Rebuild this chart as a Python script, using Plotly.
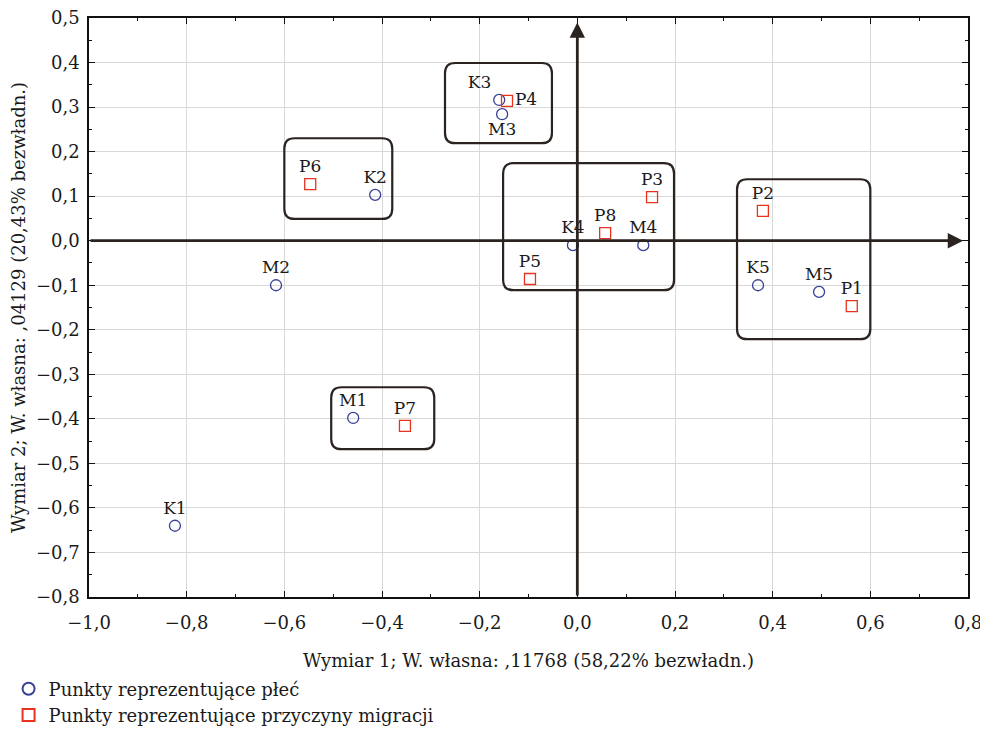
import plotly.graph_objects as go

# Points representing gender (circles)
k_labels = ["K1", "M2", "M1", "K2", "K3", "M3", "K4", "M4", "K5", "M5"]
k_x = [-0.824, -0.617, -0.459, -0.414, -0.160, -0.154, -0.009, 0.135, 0.370, 0.495]
k_y = [-0.640, -0.100, -0.398, 0.103, 0.316, 0.284, -0.010, -0.010, -0.100, -0.115]
k_pos = ["top center", "top center", "top center", "top center", "top left",
         "bottom center", "top center", "top center", "top center", "top center"]

# Points representing migration reasons (squares)
p_labels = ["P7", "P6", "P4", "P5", "P8", "P3", "P2", "P1"]
p_x = [-0.353, -0.547, -0.144, -0.097, 0.057, 0.153, 0.380, 0.562]
p_y = [-0.416, 0.127, 0.314, -0.086, 0.017, 0.098, 0.067, -0.147]
p_pos = ["top center", "top center", "middle right", "top center", "top center",
         "top center", "top center", "top center"]

# Group boxes (x0, x1, y0, y1) in data units
boxes = [
    (-0.271, -0.052, 0.219, 0.399),
    (-0.600, -0.379, 0.049, 0.230),
    (-0.152, 0.198, -0.111, 0.174),
    (0.327, 0.600, -0.221, 0.138),
    (-0.504, -0.293, -0.468, -0.329),
]

x_ticks = [-1.0, -0.8, -0.6, -0.4, -0.2, 0.0, 0.2, 0.4, 0.6, 0.8]
x_ticktext = ["−1,0", "−0,8", "−0,6", "−0,4", "−0,2", "0,0", "0,2", "0,4", "0,6", "0,8"]
y_ticks = [0.5, 0.4, 0.3, 0.2, 0.1, 0.0, -0.1, -0.2, -0.3, -0.4, -0.5, -0.6, -0.7, -0.8]
y_ticktext = ["0,5", "0,4", "0,3", "0,2", "0,1", "0,0", "−0,1", "−0,2", "−0,3",
              "−0,4", "−0,5", "−0,6", "−0,7", "−0,8"]

FONT = "DejaVu Serif, Liberation Serif, serif"
DARK = "#2a2320"
TXT = "#1a1a1a"

fig = go.Figure()

fig.add_trace(go.Scatter(
    x=k_x, y=k_y, mode="markers+text", text=k_labels, textposition=k_pos,
    textfont=dict(family=FONT, size=17, color=TXT),
    marker=dict(symbol="circle-open", size=11, color="#3a3f96", line=dict(width=1.3)),
    name="Punkty reprezentujące płeć", cliponaxis=False,
))
fig.add_trace(go.Scatter(
    x=p_x, y=p_y, mode="markers+text", text=p_labels, textposition=p_pos,
    textfont=dict(family=FONT, size=17, color=TXT),
    marker=dict(symbol="square-open", size=11, color="#e8321e", line=dict(width=1.3)),
    name="Punkty reprezentujące przyczyny migracji", cliponaxis=False,
))

rx, ry = 0.021, 0.023
for (x0, x1, y0, y1) in boxes:
    path = (f"M {x0+rx},{y0} L {x1-rx},{y0} Q {x1},{y0} {x1},{y0+ry} "
            f"L {x1},{y1-ry} Q {x1},{y1} {x1-rx},{y1} "
            f"L {x0+rx},{y1} Q {x0},{y1} {x0},{y1-ry} "
            f"L {x0},{y0+ry} Q {x0},{y0} {x0+rx},{y0} Z")
    fig.add_shape(type="path", path=path, xref="x", yref="y",
                  line=dict(color=DARK, width=2.2), layer="above")

# Axis arrows through the origin
fig.add_annotation(x=0, y=0.49, ax=0, ay=-0.8, xref="x", yref="y", axref="x", ayref="y",
                   showarrow=True, arrowhead=2, arrowsize=1.1, arrowwidth=2.8,
                   arrowcolor=DARK, text="")
fig.add_annotation(x=0.79, y=0, ax=-1.0, ay=0, xref="x", yref="y", axref="x", ayref="y",
                   showarrow=True, arrowhead=2, arrowsize=1.1, arrowwidth=2.8,
                   arrowcolor=DARK, text="")

fig.update_xaxes(
    range=[-1.0, 0.8], tickvals=x_ticks, ticktext=x_ticktext, automargin=False,
    showgrid=True, gridcolor="#d8d8d8", gridwidth=1, zeroline=False,
    showline=True, linecolor="#111", linewidth=1.5, mirror="allticks",
    ticks="inside", ticklen=6, tickcolor="#111", ticklabelstandoff=9,
    ticklabeloverflow="allow",
    minor=dict(dtick=0.1, ticks="inside", ticklen=3, tickcolor="#111", showgrid=False),
    tickfont=dict(family=FONT, size=18, color=TXT),
    title=dict(text="Wymiar 1; W. własna: ,11768 (58,22% bezwładn.)",
               font=dict(family=FONT, size=18, color=TXT), standoff=22),
)
fig.update_yaxes(
    range=[-0.8, 0.5], tickvals=y_ticks, ticktext=y_ticktext, automargin=False,
    domain=[0.0, 0.983],
    showgrid=True, gridcolor="#d8d8d8", gridwidth=1, zeroline=False,
    showline=True, linecolor="#111", linewidth=1.5, mirror="allticks",
    ticks="inside", ticklen=6, tickcolor="#111", ticklabelstandoff=4,
    ticklabeloverflow="allow",
    minor=dict(dtick=0.05, ticks="inside", ticklen=3, tickcolor="#111", showgrid=False),
    tickfont=dict(family=FONT, size=18, color=TXT),
    title=dict(text="Wymiar 2; W. własna: ,04129 (20,43% bezwładn.)",
               font=dict(family=FONT, size=18, color=TXT), standoff=8),
)

fig.update_layout(
    width=988, height=732,
    margin=dict(l=81, r=28, t=0, b=143),
    paper_bgcolor="white", plot_bgcolor="white",
    showlegend=True,
    legend=dict(x=-0.0915, y=-0.1248, xanchor="left", yanchor="top",
                font=dict(family=FONT, size=18, color=TXT),
                bgcolor="rgba(0,0,0,0)", tracegroupgap=0, itemsizing="constant"),
)

fig.write_html("out.html")
